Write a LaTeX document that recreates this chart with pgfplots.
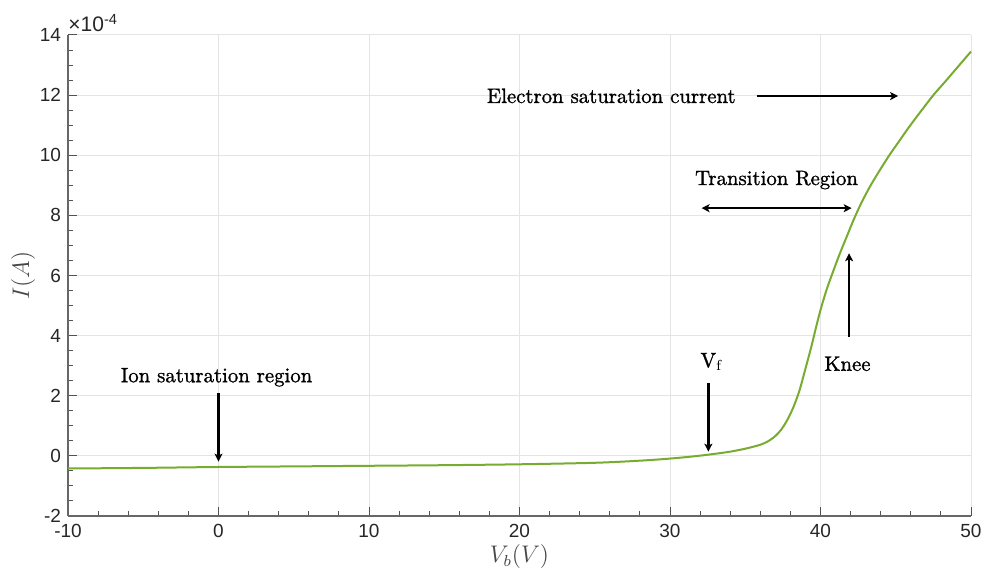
\documentclass[border=0pt]{standalone}
\usepackage{pgfplots}
\pgfplotsset{compat=1.18}
\usepackage{fontspec}
\newfontfamily\ticksans{Liberation Sans}
\newfontfamily\annot[FakeBold=1.2]{Latin Modern Roman}
\usetikzlibrary{arrows.meta}
\definecolor{mlgreen}{RGB}{119,172,48}
\definecolor{mlaxis}{RGB}{38,38,38}
\definecolor{mlgrid}{RGB}{228,228,228}

% current in units of 1e-4 A
\pgfplotstableread{
x y
-10 -0.42
-5 -0.40
0 -0.37
5 -0.35
10 -0.33
15 -0.31
20 -0.28
25 -0.23
28 -0.16
30 -0.09
31.5 -0.02
32.7 0.05
34 0.14
35.1 0.25
36 0.37
36.5 0.48
37 0.66
37.4 0.88
37.8 1.2
38.2 1.62
38.6 2.17
39 2.9
39.4 3.65
39.7 4.27
40 4.85
40.4 5.52
40.85 6.15
41.3 6.75
41.75 7.3
42.2 7.85
42.7 8.4
43.3 8.97
44 9.55
44.6 10.02
45.2 10.45
45.8 10.88
46.5 11.35
47.5 12.0
48.2 12.4
48.8 12.75
49.4 13.1
50 13.45
}\ivcurve

\begin{document}
\begin{tikzpicture}
\useasboundingbox (-34pt,-27.5pt) rectangle (458pt,258pt);
\begin{axis}[
  at={(0,0)}, anchor=south west,
  scale only axis, width=451.5pt, height=240.5pt,
  xmin=-10, xmax=50, ymin=-2, ymax=14,
  xtick={-10,0,...,50}, ytick={-2,0,...,14},
  minor x tick num=4, minor y tick num=3,
  axis x line*=bottom, axis y line*=left,
  grid=major, major grid style={mlgrid, line width=0.5pt},
  tick align=inside,
  major tick length=4.5pt, minor tick length=2.5pt,
  every tick/.style={mlaxis!80, line width=0.5pt},
  axis line style={mlaxis!70, line width=0.6pt},
  tick label style={font=\ticksans\fontsize{9.5}{11}\selectfont, text=mlaxis},
  xticklabel style={yshift=-0.6pt},
  /pgf/number format/assume math mode=true,
  xlabel={$V_b(V)$}, ylabel={$I(A)$},
  label style={font=\fontsize{11.5}{13}\selectfont, text=mlaxis!85},
  xlabel style={at={(axis description cs:0.5,0)}, anchor=center, yshift=-20.5pt},
  ylabel style={at={(axis description cs:0,0.5)}, anchor=center, yshift=22.5pt},
  clip=false,
]
\addplot[mlgreen, line width=1pt, smooth, tension=0.5] table {\ivcurve};

\node[anchor=base west, font=\ticksans\fontsize{10.5}{12}\selectfont, text=mlaxis, inner sep=0pt, yshift=1.5pt]
  at (rel axis cs:0,1) {×10\textsuperscript{-4}};

\tikzset{arr/.style={line width=1.15pt, -{Stealth[length=4pt, width=4pt, inset=1pt]}},
         lab/.style={font=\annot\fontsize{10.4}{12}\selectfont, anchor=base, inner sep=0pt}}
\node[lab] at (axis cs:26.1,11.74) {Electron saturation current};
\draw[arr] (axis cs:35.75,11.97) -- (axis cs:45.16,11.97);
\node[lab] at (axis cs:37.08,9.01) {Transition Region};
\draw[arr, {Stealth[length=4pt, width=4pt, inset=1pt]}-{Stealth[length=4pt, width=4pt, inset=1pt]}]
  (axis cs:32.1,8.24) -- (axis cs:42.07,8.24);
\node[lab] at (axis cs:41.79,2.83) {Knee};
\draw[arr] (axis cs:41.9,3.96) -- (axis cs:41.9,6.74);
\node[lab, anchor=base west] at (axis cs:32.0,2.95) {V$_{\mathrm{f}}$};
\draw[arr] (axis cs:32.55,2.41) -- (axis cs:32.55,0.14);
\node[lab] at (axis cs:-0.13,2.45) {Ion saturation region};
\draw[arr] (axis cs:0,2.09) -- (axis cs:0,-0.19);
\end{axis}
\end{tikzpicture}
\end{document}
